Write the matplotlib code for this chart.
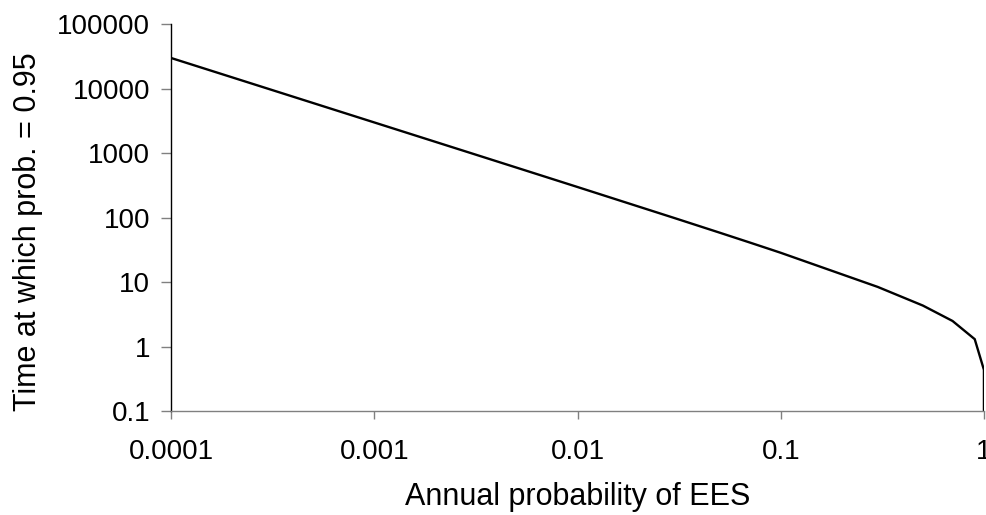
import matplotlib
matplotlib.use("Agg")
import matplotlib.pyplot as plt
from matplotlib.ticker import FixedLocator, FixedFormatter, NullLocator

plt.rcParams['font.family'] = ['Liberation Sans', 'DejaVu Sans']

# Annual probability of EES (x) and time at which prob. = 0.95 (y)
prob = [0.0001, 0.0003, 0.0005, 0.0007, 0.0009, 0.001, 0.003, 0.005, 0.007,
        0.009, 0.01, 0.03, 0.05, 0.07, 0.09, 0.1, 0.3, 0.5, 0.7, 0.9, 0.999, 1.0]
time95 = [29956, 9984, 5990, 4278, 3327, 2994, 997, 597.6, 426.5,
          331.4, 298.1, 98.35, 58.40, 41.28, 31.76, 28.43, 8.40, 4.32, 2.49,
          1.30, 0.434, 0.0]

xticks = [0.0001, 0.001, 0.01, 0.1, 1]
xticklabels = ["0.0001", "0.001", "0.01", "0.1", "1"]
yticks = [0.1, 1, 10, 100, 1000, 10000, 100000]
yticklabels = ["0.1", "1", "10", "100", "1000", "10000", "100000"]

fig = plt.figure(figsize=(9.86, 5.15), dpi=100)
ax = fig.add_axes([0.1734, 0.202, 0.8246, 0.751])
ax.set_xscale('log')
ax.set_yscale('log')
ax.plot(prob, time95, color='black', lw=1.7, solid_joinstyle='miter')
ax.set_xlim(0.0001, 1)
ax.set_ylim(0.1, 100000)

ax.xaxis.set_major_locator(FixedLocator(xticks))
ax.xaxis.set_major_formatter(FixedFormatter(xticklabels))
ax.xaxis.set_minor_locator(NullLocator())
ax.yaxis.set_major_locator(FixedLocator(yticks))
ax.yaxis.set_major_formatter(FixedFormatter(yticklabels))
ax.yaxis.set_minor_locator(NullLocator())

for s in ['top', 'right']:
    ax.spines[s].set_visible(False)
ax.spines['left'].set_color('black')
ax.spines['left'].set_linewidth(1.0)
ax.spines['bottom'].set_color('#808080')
ax.spines['bottom'].set_linewidth(1.0)

ax.tick_params(axis='x', direction='out', length=6, width=1, color='#808080',
               labelsize=20, pad=14)
ax.tick_params(axis='y', direction='out', length=7, width=1, color='#808080',
               labelsize=20, pad=8)

ax.set_xlabel('Annual probability of EES', fontsize=22)
ax.set_ylabel('Time at which prob. = 0.95', fontsize=22)
ax.xaxis.set_label_coords(0.5, -0.183)
ax.yaxis.set_label_coords(-0.157, 0.4625)

fig.savefig('out.png', dpi=100)
